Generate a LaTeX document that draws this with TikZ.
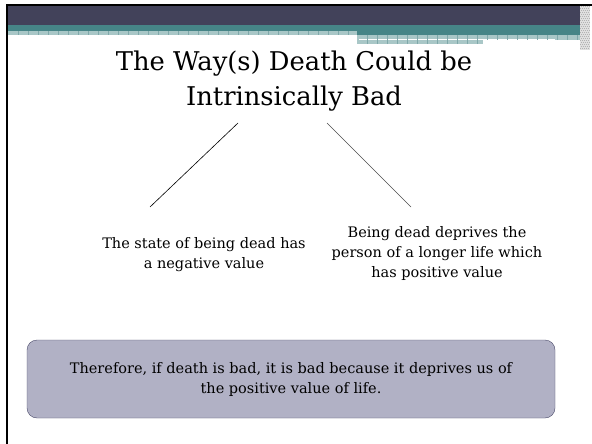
\documentclass[tikz,border=0pt]{standalone}
\usepackage{fontspec}
\setmainfont{DejaVu Serif}
\definecolor{bandDark}{HTML}{42425A}
\definecolor{bandTeal}{HTML}{468587}
\definecolor{bandLight}{HTML}{A9C7C7}
\definecolor{bandGrid}{HTML}{7FA9AA}
\definecolor{boxFill}{HTML}{B1B1C5}
\definecolor{boxLine}{HTML}{4B4B6B}
\begin{document}
\begin{tikzpicture}[x=1pt,y=-1pt,
  title node/.style={align=center,font=\fontsize{25.8}{35}\selectfont},
  point node/.style={align=center,font=\fontsize{14.5}{20}\selectfont},
  summary node/.style={draw=boxLine,fill=boxFill,rounded corners=10pt,
    minimum width=528pt,minimum height=78pt,align=center,
    font=\fontsize{14.5}{20}\selectfont}]

  \useasboundingbox[fill=white] (0,0) rectangle (592,444);

  % header bands
  \fill[black] (6,4) rectangle (592,6);
  \fill[black] (6,4) rectangle (8,444);
  \fill[bandDark] (8,6) rectangle (580,25);
  \fill[bandTeal] (8,25) rectangle (580,31);
  \fill[bandLight] (8,31) rectangle (357,35);
  \fill[bandTeal] (357,31) rectangle (580,35);
  \fill[bandLight] (357,35) rectangle (580,40);
  \fill[bandLight] (357,40) rectangle (483,44);
  \draw[white,line width=0.8pt] (359,39.5) -- (555,39.5);
  \foreach \x in {18,28,...,348}
    \draw[bandGrid,line width=0.5pt] (\x,31) -- (\x,35);
  \foreach \x in {367,377,...,577}
    \draw[bandGrid,line width=0.5pt] (\x,35) -- (\x,40);
  \foreach \x in {367,377,...,477}
    \draw[bandGrid,line width=0.5pt] (\x,40) -- (\x,44);
  \fill[gray!25] (580,6) rectangle (590,50);
  \foreach \x in {580,582,...,588}
    \foreach \y in {6,8,...,48}
      \fill[gray!60] ({\x+mod(\y,4)/2},\y) rectangle +(1,1);

  % nodes
  \node[title node] (title) at (294,81) {The Way(s) Death Could be\\Intrinsically Bad};
  \node[point node] (state) at (204,255) {The state of being dead has\\a negative value};
  \node[point node] (deprive) at (437,253) {Being dead deprives the\\person of a longer life which\\has positive value};
  \node[summary node] (summary) at (291,379) {Therefore, if death is bad, it is bad because it deprives us of\\the positive value of life.};

  \coordinate (leftTop) at (238,123);
  \coordinate (leftEnd) at (150,207);
  \coordinate (rightTop) at (327,123);
  \coordinate (rightEnd) at (411,207);
  \draw[line width=0.6pt] (leftTop) -- (leftEnd);
  \draw[line width=0.6pt,black!70] (rightTop) -- (rightEnd);
\end{tikzpicture}
\end{document}
